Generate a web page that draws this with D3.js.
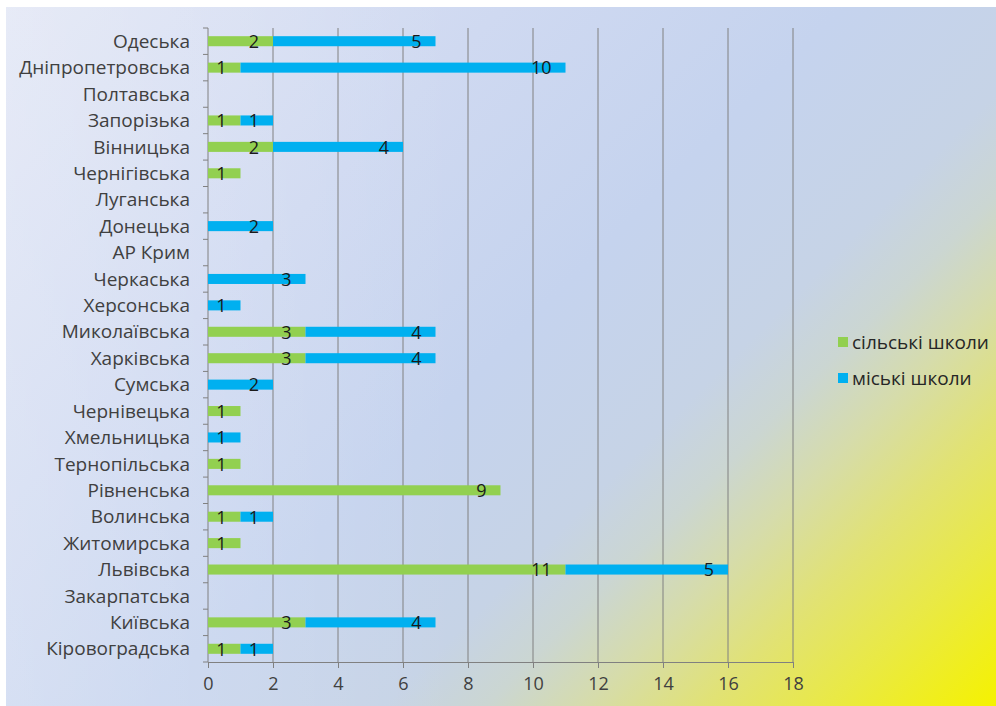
<!DOCTYPE html>
<html>
<head>
<meta charset="utf-8">
<script src="https://cdn.jsdelivr.net/npm/d3@7/dist/d3.min.js"></script>
<style>
  html, body { margin: 0; padding: 0; background: #ffffff; }
  svg { display: block; }
  text { font-family: "Open Sans", "Noto Sans", sans-serif; }
</style>
</head>
<body>
<svg id="chart" width="996" height="706"></svg>
<script>
// Regions, top to bottom
const regions = [
  "Одеська", "Дніпропетровська", "Полтавська", "Запорізька", "Вінницька",
  "Чернігівська", "Луганська", "Донецька", "АР Крим", "Черкаська",
  "Херсонська", "Миколаївська", "Харківська", "Сумська", "Чернівецька",
  "Хмельницька", "Тернопільська", "Рівненська", "Волинська", "Житомирська",
  "Львівська", "Закарпатська", "Київська", "Кіровоградська"
];
// Rural schools per region
const ruralSchools = [2, 1, 0, 1, 2, 1, 0, 0, 0, 0, 0, 3, 3, 0, 1, 0, 1, 9, 1, 1, 11, 0, 3, 1];
// Urban schools per region
const urbanSchools = [5, 10, 0, 1, 4, 0, 0, 2, 0, 3, 1, 4, 4, 2, 0, 1, 0, 0, 1, 0, 5, 0, 4, 1];
const seriesNames = ["сільські школи", "міські школи"];
const xTicks = [0, 2, 4, 6, 8, 10, 12, 14, 16, 18];

const W = 996, H = 706;
const colors = ["#92d050", "#00b0f0"];
const svg = d3.select("#chart");

// Background: diagonal wash from pale lavender through blue to yellow in the lower right
const defs = svg.append("defs");
const diag = (W + H) / 2;
const lin = defs.append("linearGradient").attr("id", "bgLin")
  .attr("gradientUnits", "userSpaceOnUse")
  .attr("x1", 0).attr("y1", 0).attr("x2", diag).attr("y2", diag);
[
  [0, "#dfe4f4"], [0.3, "#cfd9f1"], [0.5, "#c5d3ee"], [0.64, "#c6d3e6"],
  [0.7, "#cbd6d2"], [0.76, "#d6dcaa"], [0.83, "#e1e274"], [0.9, "#e9e946"], [1, "#f5f200"]
].forEach(([o, c]) => lin.append("stop").attr("offset", o).attr("stop-color", c));
// Lighter haze along the left edge
const haze = defs.append("linearGradient").attr("id", "bgHaze")
  .attr("gradientUnits", "userSpaceOnUse")
  .attr("x1", 0).attr("y1", 0).attr("x2", 460).attr("y2", 0);
haze.append("stop").attr("offset", 0).attr("stop-color", "#ffffff").attr("stop-opacity", 0.25);
haze.append("stop").attr("offset", 1).attr("stop-color", "#ffffff").attr("stop-opacity", 0);

svg.append("rect").attr("x", 6).attr("y", 7).attr("width", W - 6).attr("height", H - 7)
  .attr("fill", "url(#bgLin)");
svg.append("rect").attr("x", 6).attr("y", 7).attr("width", W - 6).attr("height", H - 7)
  .attr("fill", "url(#bgHaze)");

const plot = { left: 208, right: 793, top: 28, bottom: 662 };

const x = d3.scaleLinear().domain([0, 18]).range([plot.left, plot.right]);
const y = d3.scaleBand().domain(regions).range([plot.top, plot.bottom]).paddingInner(0.62).paddingOuter(0.31);

const rows = regions.map((r, i) => ({ region: r, rural: ruralSchools[i], urban: urbanSchools[i] }));
const stacked = d3.stack().keys(["rural", "urban"])(rows);

// Vertical gridlines
svg.append("g")
  .selectAll("line").data(xTicks.filter(t => t > 0)).join("line")
  .attr("x1", d => x(d)).attr("x2", d => x(d))
  .attr("y1", plot.top).attr("y2", plot.bottom)
  .attr("stroke", "#808080").attr("stroke-width", 1);

// Bottom axis
const xAxis = svg.append("g").attr("transform", `translate(0,${plot.bottom})`)
  .call(d3.axisBottom(x).tickValues(xTicks).tickSize(6).tickPadding(9));
xAxis.select(".domain").attr("stroke", "#808080");
xAxis.selectAll(".tick line").attr("stroke", "#808080");
xAxis.selectAll("text").attr("font-size", 18).attr("fill", "#404040");

// Left axis with ticks at category boundaries
const boundaries = d3.range(regions.length + 1).map(i => plot.top + i * (plot.bottom - plot.top) / regions.length);
svg.append("line").attr("x1", plot.left).attr("x2", plot.left)
  .attr("y1", plot.top).attr("y2", plot.bottom).attr("stroke", "#808080");
svg.append("g").selectAll("line").data(boundaries).join("line")
  .attr("x1", plot.left - 5).attr("x2", plot.left)
  .attr("y1", d => d).attr("y2", d => d)
  .attr("stroke", "#808080");
svg.append("g").selectAll("text").data(regions).join("text")
  .attr("x", plot.left - 18)
  .attr("y", d => y(d) + y.bandwidth() / 2)
  .attr("dy", "0.35em")
  .attr("text-anchor", "end")
  .attr("font-size", 19)
  .attr("fill", "#404040")
  .text(d => d);

// Stacked bars
const layers = svg.append("g").selectAll("g").data(stacked).join("g")
  .attr("fill", (d, i) => colors[i]);
layers.selectAll("rect").data(d => d).join("rect")
  .attr("x", d => x(d[0]))
  .attr("width", d => x(d[1]) - x(d[0]))
  .attr("y", d => y(d.data.region))
  .attr("height", y.bandwidth());

// Value labels at the inner end of each segment
layers.selectAll("text").data((d) => d.map(s => ({ s, key: d.key }))).join("text")
  .filter(d => d.s.data[d.key] > 0)
  .attr("x", d => x(d.s[1]) - 14)
  .attr("y", d => y(d.s.data.region) + y.bandwidth() / 2)
  .attr("dy", "0.38em")
  .attr("text-anchor", "end")
  .attr("font-size", 18)
  .attr("fill", "#1a1a1a")
  .text(d => d.s.data[d.key]);

// Legend
const legend = svg.append("g");
seriesNames.forEach((name, i) => {
  const ly = 342 + i * 36;
  legend.append("rect").attr("x", 838).attr("y", ly - 5).attr("width", 10).attr("height", 10)
    .attr("fill", colors[i]);
  legend.append("text").attr("x", 852).attr("y", ly).attr("dy", "0.35em")
    .attr("font-size", 19).attr("fill", "#262626").text(name);
});
</script>
</body>
</html>
